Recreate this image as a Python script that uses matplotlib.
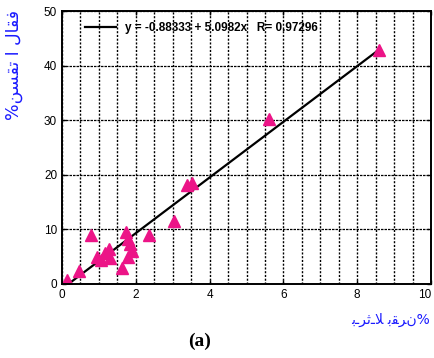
import numpy as np
import matplotlib.pyplot as plt
from matplotlib.ticker import MultipleLocator

# === Measured values ===
loss_x = [0.14, 0.46, 0.94, 1.05, 1.17, 1.30, 1.27, 0.78, 1.62, 1.78, 1.89,
          1.84, 1.80, 1.73, 2.36, 3.04, 3.38, 3.52, 5.61, 8.59]
loss_y = [0.7, 2.3, 5.0, 4.4, 5.7, 4.7, 6.5, 9.0, 3.0, 5.0, 6.1,
          7.4, 8.2, 9.6, 9.0, 11.6, 18.2, 18.5, 30.2, 42.9]

# regression fit
slope = 5.0982
intercept = -0.88333
r_value = 0.97296

x_ticks = [0, 2, 4, 6, 8, 10]
x_label = "ﺑـﺮﺛـﻼ ﺑﻘﺮﻥ%"
y_label = "%ﻦﺴﻘﺗ ﺍ ﻝﺎﻘﻓ"

plt.rcParams['font.family'] = ['Liberation Sans', 'DejaVu Sans']

fig = plt.figure(figsize=(4.35, 3.58), dpi=100)
ax = fig.add_axes([62 / 435, 1 - 284 / 358, 369 / 435, 273 / 358])

ax.set_xlim(0, 10)
ax.set_ylim(0, 50)
ax.set_xticks(x_ticks)
ax.xaxis.set_minor_locator(MultipleLocator(0.5))
ax.yaxis.set_major_locator(MultipleLocator(10))

ax.grid(axis='x', which='both', color='black', linestyle=(0, (1.5, 1.2)), linewidth=1.0)
ax.grid(axis='y', which='major', color='black', linestyle=(0, (2, 0.8)), linewidth=0.9)
ax.set_axisbelow(True)

ax.tick_params(which='both', direction='in', top=True, right=True, labelsize=8.5,
               length=3, width=1)
ax.tick_params(which='minor', length=0)
for s in ax.spines.values():
    s.set_linewidth(1.4)
# keep the last x label inside the figure
ax.get_xticklabels()[-1].set_horizontalalignment('right')

# fitted line over the data range
xs = np.array([min(loss_x), max(loss_x)])
ax.plot(xs, intercept + slope * xs, color='black', linewidth=1.6,
        label=f"y = {intercept} + {slope}x   R= {r_value}")

ax.plot(loss_x, loss_y, linestyle='none', marker='^', markersize=9,
        color='#ec1487', markeredgecolor='#ec1487')

leg = ax.legend(loc='upper left', frameon=False, fontsize=8.5,
                handlelength=2.6, borderaxespad=0.3, bbox_to_anchor=(0.04, 0.99))
for t in leg.get_texts():
    t.set_fontweight('bold')

fig.text(430 / 435, 1 - 320 / 358, x_label, color='#1a1aff', fontsize=10,
         ha='right', va='center', family=['DejaVu Sans'])
fig.text(14 / 435, 1 - 65 / 358, y_label, color='#1a1aff', fontsize=12.5,
         ha='center', va='center', rotation=90, family=['DejaVu Sans'])
fig.text(200 / 435, 1 - 341 / 358, "(a)", fontsize=14, fontweight='bold',
         ha='center', va='center', family=['Liberation Serif'])

fig.savefig('out.png', dpi=100)
